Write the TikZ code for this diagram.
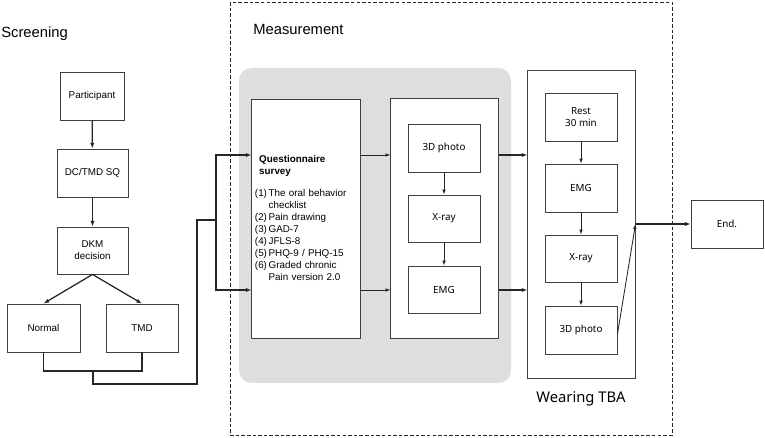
\documentclass[tikz,border=0pt]{standalone}
\usepackage{fontspec}
\setmainfont{Liberation Sans}
\newfontfamily\kofont{Noto Sans}
\usetikzlibrary{arrows.meta}

\tikzset{
    box/.style={draw=black!75, line width=0.6pt, fill=white, minimum width=1.8cm, minimum height=1.2cm,
        align=center, inner sep=1pt, font=\fontsize{7}{8.5}\selectfont},
    kbox/.style={box, font=\kofont\fontsize{7}{8.5}\selectfont},
    frame/.style={draw=black!75, line width=0.7pt, fill=white},
    link/.style={draw=black!85, line width=0.9pt},
    arr/.style={link, -{Latex[length=4pt,width=3pt]}},
    tarr/.style={draw=black!85, line width=0.6pt, -{Latex[length=3.5pt,width=2.6pt]}},
    heading/.style={inner sep=0pt, font=\fontsize{10.5}{12}\selectfont},
}

\begin{document}
\begin{tikzpicture}[x=0.025cm, y=-0.025cm]
    \useasboundingbox (0,0) rectangle (765,438);

    % measurement frame and shaded block
    \draw[draw=black!85, line width=0.6pt, dash pattern=on 2.5pt off 1.5pt] (230,2) rectangle (672,435);
    \fill[black!13, rounded corners=9pt] (239,68) rectangle (511,383);

    \node[heading, anchor=base west] (screen) at (1,38) {Screening};
    \node[heading, anchor=base west] (meas) at (253,35) {Measurement};

    % screening
    \node[box, minimum width=1.6cm] (part) at (92,96) {Participant};
    \node[box, minimum width=1.775cm] (sq) at (92.5,173) {DC/TMD SQ};
    \node[box, minimum width=1.775cm, minimum height=1.175cm] (dkm) at (92.5,250.5) {DKM\\decision};
    \node[box, minimum width=1.825cm] (norm) at (43.5,328) {Normal};
    \node[box] (tmd) at (142,328) {TMD};

    \draw[arr] (part) -- (sq);
    \draw[arr] (sq) -- (dkm);
    \draw[arr] (dkm.south) -- (norm.north);
    \draw[arr] (dkm.south) -- (tmd.north);

    \coordinate (merge) at (93,371);
    \coordinate (split) at (216,220);
    \coordinate (rowa) at (0,155);
    \coordinate (rowb) at (0,290);
    \draw[link] (norm.south) |- (merge) -| (tmd.south);
    \draw[link] (merge) -- (93,384) -| (197,220) -- (split);

    % questionnaire
    \node[frame, minimum height=5.95cm, text width=2.55cm, inner xsep=0.075cm, inner ysep=0pt,
        align=left, font=\fontsize{7}{8.5}\selectfont] (quest) at (306,219) {%
        \begin{tabular}{@{}l@{\,}l@{}}
            \multicolumn{2}{@{\hspace{3pt}}l@{}}{\bfseries Questionnaire}\\
            \multicolumn{2}{@{\hspace{3pt}}l@{}}{\bfseries survey}\\[7pt]
            (1)&The oral behavior\\
            &checklist\\
            (2)&Pain drawing\\
            (3)&GAD-7\\
            (4)&JFLS-8\\
            (5)&PHQ-9 / PHQ-15\\
            (6)&Graded chronic\\
            &Pain version 2.0
        \end{tabular}};

    \draw[arr] (split) |- (quest.west |- rowa);
    \draw[arr] (split) |- (quest.west |- rowb);

    % baseline measurement
    \node[frame, minimum width=2.675cm, minimum height=5.975cm] (inner) at (444.5,218.5) {};
    \node[kbox] (photoa) at (444,148) {3D photo};
    \node[kbox, minimum height=1.175cm] (xraya) at (444,218.5) {X-ray};
    \node[kbox, minimum height=1.175cm] (emga) at (444,289.5) {EMG};

    \draw[tarr] (quest.east |- rowa) -- (inner.west |- rowa);
    \draw[tarr] (quest.east |- rowb) -- (inner.west |- rowb);
    \draw[tarr] (photoa) -- (xraya);
    \draw[tarr] (xraya) -- (emga);

    % wearing TBA
    \node[frame, minimum width=2.675cm, minimum height=7.675cm] (wear) at (581.5,224.5) {};
    \node[kbox] (rest) at (581,117) {Rest\\30 min};
    \node[kbox] (emgb) at (581,188) {EMG};
    \node[kbox, minimum height=1.175cm] (xrayb) at (581,258.5) {X-ray};
    \node[kbox] (photob) at (581,330) {3D photo};
    \node[heading, anchor=base, font=\kofont\fontsize{10.5}{12}\selectfont] (wtba) at (581,403) {Wearing TBA};

    \draw[arr] (inner.east |- rowa) -- (wear.west |- rowa);
    \draw[arr] (inner.east |- rowb) -- (wear.west |- rowb);
    \draw[tarr] (rest) -- (emgb);
    \draw[tarr] (emgb) -- (xrayb);
    \draw[tarr] (xrayb) -- (photob);

    % end
    \node[kbox] (fin) at (727,224) {End.};
    \coordinate (exit) at (wear.east |- fin.west);
    \draw[tarr] ([yshift=-3]photob.east) -- (exit);
    \draw[arr] (exit) -- (fin.west);
\end{tikzpicture}
\end{document}
